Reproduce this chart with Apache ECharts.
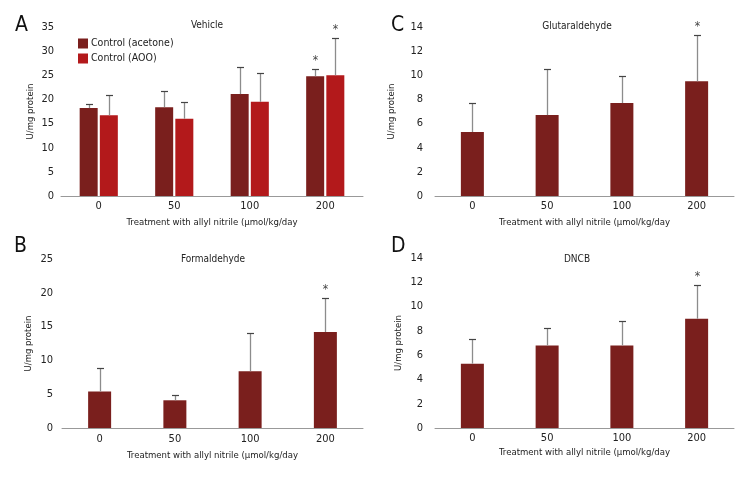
<!DOCTYPE html>
<html>
<head>
<meta charset="utf-8">
<script src="https://cdn.jsdelivr.net/npm/echarts@6/dist/echarts.min.js"></script>
<style>
  html, body { margin: 0; padding: 0; background: #fff; }
  #main { width: 756px; height: 480px; }
</style>
</head>
<body>
<div id="main"></div>
<script>
const DARK_RED = '#7a1f1d';
const RED = '#b3191b';

const categories = ['0', '50', '100', '200'];

// panel A - vehicle
const acetoneMean = [18.2, 18.4, 21.1, 24.8];
const acetoneErr = [0.8, 3.3, 5.7, 1.6];
const acetoneSig = [0, 0, 0, 1];
const aooMean = [16.7, 16.0, 19.5, 25.0];
const aooErr = [4.3, 3.4, 6.0, 7.8];
const aooSig = [0, 0, 0, 1];

// panel B - formaldehyde
const formMean = [5.4, 4.1, 8.4, 14.2];
const formErr = [3.5, 0.8, 5.6, 5.0];
const formSig = [0, 0, 0, 1];

// panel C - glutaraldehyde
const glutMean = [5.3, 6.7, 7.7, 9.5];
const glutErr = [2.4, 3.8, 2.2, 3.8];
const glutSig = [0, 0, 0, 1];

// panel D - DNCB
const dncbMean = [5.3, 6.8, 6.8, 9.0];
const dncbErr = [2.0, 1.4, 2.0, 2.8];
const dncbSig = [0, 0, 0, 1];

// pick a narrow font if there is one, else condensed DejaVu at a smaller size
const ctx = document.createElement('canvas').getContext('2d');
function w(font) { ctx.font = font; return ctx.measureText('Treatment with allyl nitrile').width; }
const hasNarrow = w("12px 'Liberation Sans Narrow', monospace") !== w('12px monospace');
const FONT = hasNarrow ? "'Liberation Sans Narrow', sans-serif" : "'DejaVu Sans Condensed', 'Liberation Sans', sans-serif";
const FS_TICK = hasNarrow ? 12 : 11;
const FS = hasNarrow ? 12 : 10;
const FS_NAME = hasNarrow ? 11.5 : 9.5;

const chart = echarts.init(document.getElementById('main'), null, { renderer: 'canvas' });

function errData(mean, err, sig) {
  return mean.map((m, i) => [i, m, err[i], sig[i]]);
}

function errorSeries(idx, mean, err, sig, offset) {
  return {
    type: 'custom',
    xAxisIndex: idx,
    yAxisIndex: idx,
    z: 5,
    silent: true,
    data: errData(mean, err, sig),
    renderItem: function (params, api) {
      const i = api.value(0);
      const m = api.value(1);
      const e = api.value(2);
      const base = api.coord([i, m]);
      const tip = api.coord([i, m + e]);
      const cx = Math.round(base[0] + offset) + 0.5;
      const ty = Math.round(tip[1]) + 0.5;
      const children = [
        { type: 'line', shape: { x1: cx, y1: base[1], x2: cx, y2: ty },
          style: { stroke: '#8c8c8c', lineWidth: 1.3 } },
        { type: 'line', shape: { x1: cx - 3.5, y1: ty, x2: cx + 3.5, y2: ty },
          style: { stroke: '#444', lineWidth: 1.2 } }
      ];
      if (api.value(3)) {
        children.push({ type: 'text', x: cx, y: ty - 3,
          style: { text: '*', fill: '#444', font: '12px ' + FONT, align: 'center', verticalAlign: 'bottom' } });
      }
      return { type: 'group', children: children };
    }
  };
}

const grids = [
  { left: 61, top: 27, width: 302, height: 169 },   // A
  { left: 62, top: 259, width: 301, height: 169 },  // B
  { left: 435, top: 27, width: 299, height: 169 },  // C
  { left: 435, top: 258, width: 299, height: 170 }  // D
];

const yMax = [35, 25, 14, 14];
const yStep = [5, 5, 2, 2];
const yNameGap = [25, 28, 38, 31];
const yLabelMargin = [7, 9, 12, 12];
const xNameGap = [22, 23, 22, 20];
const xLabelMargin = [5, 6, 5, 5];

const xAxes = grids.map((g, k) => ({
  type: 'category',
  gridIndex: k,
  data: categories,
  name: 'Treatment with allyl nitrile (μmol/kg/day',
  nameLocation: 'middle',
  nameGap: xNameGap[k],
  nameTextStyle: { fontFamily: FONT, fontSize: FS_NAME, color: '#222' },
  axisLine: { lineStyle: { color: '#999', width: 1 } },
  axisTick: { show: false },
  axisLabel: { fontFamily: FONT, fontSize: FS_TICK, color: '#222', margin: xLabelMargin[k] }
}));

const yAxes = grids.map((g, k) => ({
  type: 'value',
  gridIndex: k,
  min: 0,
  max: yMax[k],
  interval: yStep[k],
  name: 'U/mg protein',
  nameLocation: 'middle',
  nameGap: yNameGap[k],
  nameTextStyle: { fontFamily: FONT, fontSize: FS_NAME, color: '#222' },
  axisLine: { show: false },
  axisTick: { show: false },
  splitLine: { show: false },
  axisLabel: { fontFamily: FONT, fontSize: FS_TICK, color: '#222', margin: yLabelMargin[k] }
}));

const titleText = ['Vehicle', 'Formaldehyde', 'Glutaraldehyde', 'DNCB'];
const titlePos = [[207, 20], [213, 254], [577, 21], [577, 254]];

chart.setOption({
  animation: false,
  backgroundColor: '#fff',
  title: titleText.map((t, k) => ({
    text: t,
    left: titlePos[k][0],
    top: titlePos[k][1],
    padding: 0,
    textAlign: 'center',
    textStyle: { fontFamily: FONT, fontSize: FS, fontWeight: 'normal', color: '#222' }
  })),
  legend: {
    orient: 'vertical',
    left: 78,
    top: 38,
    padding: 0,
    itemWidth: 10,
    itemHeight: 10,
    itemGap: 4,
    icon: 'rect',
    data: ['Control (acetone)', 'Control (AOO)'],
    textStyle: { fontFamily: FONT, fontSize: FS + 0.5, color: '#222', padding: [0, 0, 0, -2] }
  },
  graphic: [
    { type: 'text', left: 15, top: 15, style: { text: 'A', font: '21px ' + FONT, fill: '#111' } },
    { type: 'text', left: 14, top: 236, style: { text: 'B', font: '21px ' + FONT, fill: '#111' } },
    { type: 'text', left: 391, top: 15, style: { text: 'C', font: '21px ' + FONT, fill: '#111' } },
    { type: 'text', left: 391, top: 236, style: { text: 'D', font: '21px ' + FONT, fill: '#111' } }
  ],
  grid: grids,
  xAxis: xAxes,
  yAxis: yAxes,
  series: [
    { name: 'Control (acetone)', type: 'bar', xAxisIndex: 0, yAxisIndex: 0,
      data: acetoneMean, barWidth: 18, barGap: '12%', itemStyle: { color: DARK_RED } },
    { name: 'Control (AOO)', type: 'bar', xAxisIndex: 0, yAxisIndex: 0,
      data: aooMean, barWidth: 18, barGap: '12%', itemStyle: { color: RED } },
    errorSeries(0, acetoneMean, acetoneErr, acetoneSig, -10),
    errorSeries(0, aooMean, aooErr, aooSig, 10),

    { name: 'Formaldehyde', type: 'bar', xAxisIndex: 1, yAxisIndex: 1,
      data: formMean, barWidth: 23, itemStyle: { color: DARK_RED } },
    errorSeries(1, formMean, formErr, formSig, 0),

    { name: 'Glutaraldehyde', type: 'bar', xAxisIndex: 2, yAxisIndex: 2,
      data: glutMean, barWidth: 23, itemStyle: { color: DARK_RED } },
    errorSeries(2, glutMean, glutErr, glutSig, 0),

    { name: 'DNCB', type: 'bar', xAxisIndex: 3, yAxisIndex: 3,
      data: dncbMean, barWidth: 23, itemStyle: { color: DARK_RED } },
    errorSeries(3, dncbMean, dncbErr, dncbSig, 0)
  ]
});
</script>
</body>
</html>
